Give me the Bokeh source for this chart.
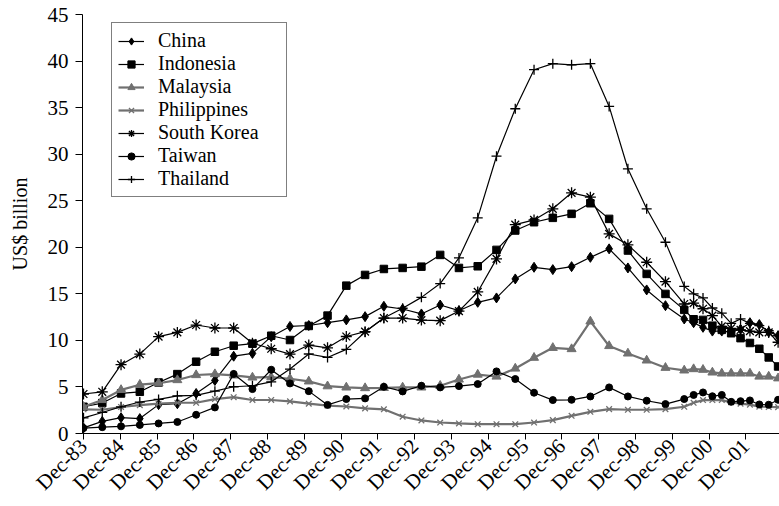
import math
from bokeh.plotting import figure
from bokeh.models import FixedTicker, Legend, LegendItem, Range1d
from bokeh.embed import file_html
from bokeh.resources import INLINE

# ---- periods: semi-annual Dec-83 .. Dec-99, then quarterly Mar-00 .. Jun-02
periods = ["Dec-83", "Jun-84", "Dec-84", "Jun-85", "Dec-85", "Jun-86", "Dec-86", "Jun-87",
           "Dec-87", "Jun-88", "Dec-88", "Jun-89", "Dec-89", "Jun-90", "Dec-90", "Jun-91",
           "Dec-91", "Jun-92", "Dec-92", "Jun-93", "Dec-93", "Jun-94", "Dec-94", "Jun-95",
           "Dec-95", "Jun-96", "Dec-96", "Jun-97", "Dec-97", "Jun-98", "Dec-98", "Jun-99",
           "Dec-99", "Mar-00", "Jun-00", "Sep-00", "Dec-00", "Mar-01", "Jun-01", "Sep-01",
           "Dec-01", "Mar-02", "Jun-02"]

tick_labels = ["Dec-83", "Dec-84", "Dec-85", "Dec-86", "Dec-87", "Dec-88", "Dec-89", "Dec-90",
               "Dec-91", "Dec-92", "Dec-93", "Dec-94", "Dec-95", "Dec-96", "Dec-97", "Dec-98",
               "Dec-99", "Dec-00", "Dec-01"]

china = [0.6, 1.3, 1.7, 1.6, 3.1, 3.2, 4.3, 5.7, 8.3, 8.6, 10.4, 11.5, 11.6, 11.9, 12.2, 12.55,
         13.66, 13.37, 12.84, 13.8, 13.19, 14.09, 14.56, 16.6, 17.85, 17.6, 17.92, 18.92, 19.83,
         17.78, 15.42, 13.73, 12.3, 11.9, 11.4, 11.0, 11.0, 10.9, 11.2, 11.9, 11.7, 10.9, 10.5]
indonesia = [2.87, 3.27, 4.3, 4.48, 5.48, 6.38, 7.71, 8.78, 9.43, 9.65, 10.5, 10.04, 11.55, 12.66,
             15.88, 17.03, 17.67, 17.78, 17.92, 19.18, 17.78, 17.96, 19.72, 21.8, 22.69, 23.16,
             23.59, 24.73, 23.05, 19.65, 17.14, 14.99, 13.28, 12.27, 12.2, 11.58, 11.13, 10.77,
             10.24, 9.72, 9.1, 8.17, 7.2]
malaysia = [2.87, 3.6, 4.68, 5.24, 5.4, 5.74, 6.28, 6.38, 6.24, 6.02, 6.05, 5.88, 5.6, 5.08, 4.95,
            4.88, 4.9, 4.95, 4.95, 5.13, 5.8, 6.33, 6.12, 6.98, 8.14, 9.2, 9.07, 12.04, 9.4, 8.6,
            7.85, 7.06, 6.78, 6.92, 6.85, 6.56, 6.45, 6.45, 6.45, 6.45, 6.12, 6.12, 5.93]
philippines = [2.6, 2.55, 2.85, 3.05, 3.2, 3.3, 3.3, 3.7, 3.9, 3.6, 3.6, 3.45, 3.2, 3.0, 2.9, 2.7,
               2.6, 1.8, 1.4, 1.18, 1.08, 1.0, 1.0, 1.0, 1.18, 1.44, 1.9, 2.33, 2.62, 2.55, 2.55,
               2.62, 2.87, 3.3, 3.59, 3.59, 3.59, 3.35, 3.2, 3.1, 2.88, 2.85, 2.83]
south_korea = [4.24, 4.48, 7.39, 8.53, 10.4, 10.86, 11.65, 11.33, 11.33, 9.7, 9.1, 8.53, 9.5, 9.2,
               10.42, 10.94, 12.4, 12.4, 12.18, 12.12, 13.15, 15.2, 18.75, 22.44, 22.94, 24.13,
               25.85, 25.38, 21.44, 20.26, 18.39, 16.31, 13.91, 14.0, 13.4, 12.66, 11.5, 11.3,
               11.12, 11.0, 10.86, 10.86, 9.8]
taiwan = [0.58, 0.68, 0.77, 0.92, 1.08, 1.24, 2.01, 2.8, 6.4, 4.77, 6.85, 5.38, 4.55, 3.07, 3.7,
          3.77, 5.02, 4.52, 5.13, 4.95, 5.09, 5.31, 6.67, 5.85, 4.38, 3.59, 3.62, 3.98, 4.95, 3.98,
          3.52, 3.16, 3.7, 4.14, 4.41, 4.0, 4.14, 3.4, 3.47, 3.55, 3.12, 3.09, 3.62]
thailand = [1.68, 2.26, 2.87, 3.38, 3.66, 4.05, 4.1, 4.55, 5.02, 5.13, 5.55, 6.92, 8.54, 8.17,
            9.03, 10.9, 12.4, 13.45, 14.62, 16.1, 18.86, 23.16, 29.78, 34.88, 39.07, 39.72, 39.6,
            39.72, 35.13, 28.43, 24.13, 20.54, 15.8, 15.0, 14.56, 13.48, 12.92, 11.83, 12.3,
            11.83, 11.58, 11.04, 10.5]

# ---- x position: quarters elapsed since Dec-83
MONTH = {"Mar": 3, "Jun": 6, "Sep": 9, "Dec": 12}


def quarter_index(label):
    mon, yy = label.split("-")
    yy = int(yy)
    year = 1900 + yy if yy > 50 else 2000 + yy
    return ((year * 12 + MONTH[mon]) - (1983 * 12 + 12)) / 3.0


xs = [quarter_index(p) for p in periods]

FONT = "Liberation Serif"
GRAY = "#707070"

p = figure(width=779, height=506, output_backend="svg", toolbar_location=None,
           x_range=Range1d(-0.106, 74.15), y_range=Range1d(0, 45),
           min_border_left=82, min_border_right=0, min_border_top=14, min_border_bottom=73)
p.outline_line_color = None
p.xgrid.visible = False
p.ygrid.visible = False
p.background_fill_color = "white"
p.border_fill_color = "white"

series = [
    ("China", china, "black", 1.2, "diamond", 10, "black"),
    ("Indonesia", indonesia, "black", 1.2, "square", 7.5, "black"),
    ("Malaysia", malaysia, GRAY, 2.2, "triangle", 9, GRAY),
    ("Philippines", philippines, GRAY, 2.2, "x", 8, GRAY),
    ("South Korea", south_korea, "black", 1.2, "asterisk", 11, "black"),
    ("Taiwan", taiwan, "black", 1.2, "circle", 7, "black"),
    ("Thailand", thailand, "black", 1.2, "cross", 10, "black"),
]

items = []
for name, ys, col, lw, marker, size, mcol in series:
    r1 = p.line(xs, ys, line_color=col, line_width=lw)
    r2 = p.scatter(xs, ys, marker=marker, size=size, fill_color=mcol, line_color=mcol,
                   line_width=1.3 if marker in ("x", "asterisk", "cross") else 1)
    items.append(LegendItem(label=name, renderers=[r1, r2]))

legend = Legend(items=items, location=(29, 236))
legend.label_text_font = FONT
legend.label_text_font_size = "20px"
legend.label_text_color = "black"
legend.border_line_color = "black"
legend.border_line_width = 1
legend.background_fill_alpha = 1
legend.padding = 6
legend.spacing = 0
legend.glyph_width = 26
legend.glyph_height = 18
legend.label_height = 18
legend.label_width = 122
legend.label_standoff = 14
legend.margin = 0
p.add_layout(legend, "center")

# y axis
p.yaxis.ticker = FixedTicker(ticks=[0, 5, 10, 15, 20, 25, 30, 35, 40, 45])
p.yaxis.axis_label = "US$ billion"
p.yaxis.axis_label_text_font = FONT
p.yaxis.axis_label_text_font_style = "normal"
p.yaxis.axis_label_text_font_size = "20px"
p.yaxis.axis_label_text_color = "black"
p.yaxis.axis_label_standoff = 14
p.yaxis.major_label_text_font = FONT
p.yaxis.major_label_text_font_size = "21px"
p.yaxis.major_label_text_color = "black"
p.yaxis.major_label_standoff = 7
p.yaxis.major_tick_out = 7
p.yaxis.major_tick_in = 0
p.yaxis.minor_tick_line_color = None
p.yaxis.axis_line_color = "black"

# x axis: one labelled tick per December, spaced as on the reference axis
TICK_STEP = 3.92
tick_pos = [round(i * TICK_STEP, 3) for i in range(len(tick_labels))]
p.xaxis.ticker = FixedTicker(ticks=tick_pos)
p.xaxis.major_label_overrides = {tp: lab for tp, lab in zip(tick_pos, tick_labels)}
p.xaxis.major_label_orientation = math.pi / 4
p.xaxis.major_label_text_font = FONT
p.xaxis.major_label_text_font_size = "21px"
p.xaxis.major_label_text_color = "black"
p.xaxis.major_label_standoff = 3
p.xaxis.major_tick_out = 6
p.xaxis.major_tick_in = 0
p.xaxis.minor_tick_line_color = None
p.xaxis.axis_line_color = "black"

open("out.html", "w").write(file_html(p, INLINE))
